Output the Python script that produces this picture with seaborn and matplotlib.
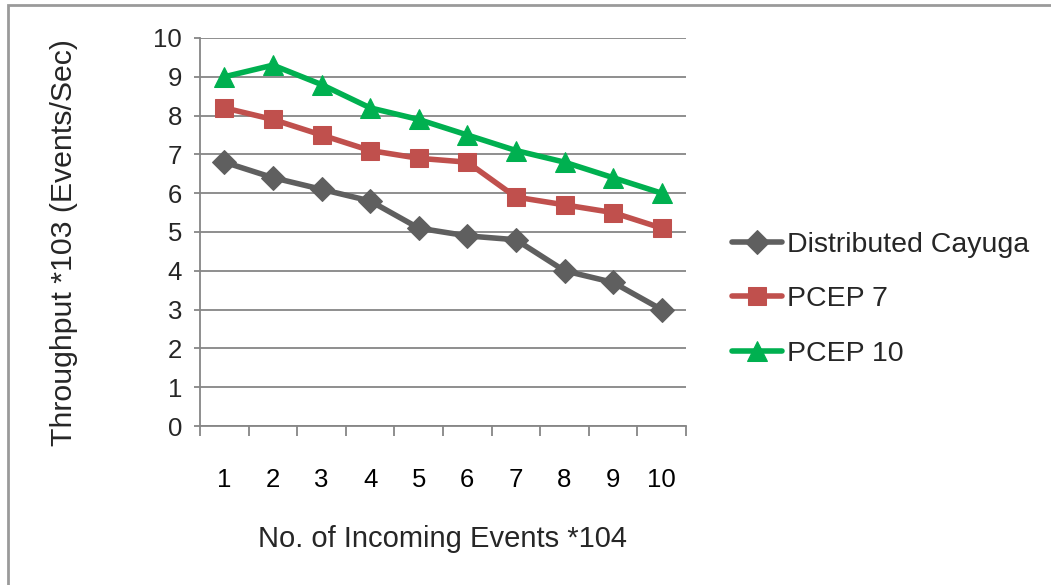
import matplotlib
matplotlib.use("Agg")
import matplotlib.pyplot as plt
import seaborn as sns
import pandas as pd
from matplotlib.patches import Rectangle

categories = ["1", "2", "3", "4", "5", "6", "7", "8", "9", "10"]
cayuga = [6.8, 6.4, 6.1, 5.8, 5.1, 4.9, 4.8, 4.0, 3.7, 3.0]
pcep7 = [8.2, 7.9, 7.5, 7.1, 6.9, 6.8, 5.9, 5.7, 5.5, 5.1]
pcep10 = [9.0, 9.3, 8.8, 8.2, 7.9, 7.5, 7.1, 6.8, 6.4, 6.0]
series_names = ["Distributed Cayuga", "PCEP 7", "PCEP 10"]
y_ticks = [0, 1, 2, 3, 4, 5, 6, 7, 8, 9, 10]

colors = ["#5f5f5f", "#c0504d", "#00b050"]
markers = ["D", "s", "^"]
msizes = [12.5, 13.5, 15]

sns.set_theme(style="white")
plt.rcParams['font.family'] = ['Liberation Sans', 'DejaVu Sans']

rows = []
for name, vals in zip(series_names, [cayuga, pcep7, pcep10]):
    for i, v in enumerate(vals):
        rows.append({"pos": i, "value": v, "series": name})
df = pd.DataFrame(rows)

fig = plt.figure(figsize=(10.51, 5.85), dpi=100)
ax = fig.add_axes([200/1051, 1-426/585, (686-200)/1051, (426-38)/585])

for name, c, m, ms in zip(series_names, colors, markers, msizes):
    sub = df[df["series"] == name]
    sns.lineplot(data=sub, x="pos", y="value", ax=ax, color=c, linewidth=4.0,
                 marker=m, markersize=ms, markeredgecolor=c, label=name, zorder=3)

ax.set_xlim(-0.5, 9.5)
ax.set_ylim(0, 10)
ax.set_yticks(y_ticks)
ax.set_yticklabels([str(t) for t in y_ticks], fontsize=18.5)
ax.set_xticks(range(len(categories)))
ax.set_xticklabels(categories, fontsize=18.5)
ax.set_xticks([i - 0.5 for i in range(len(categories) + 1)], minor=True)
ax.tick_params(axis='x', which='major', length=0, pad=30, colors='black')
ax.tick_params(axis='x', which='minor', length=7, width=1.3, color='#868686', direction='out', bottom=True)
ax.tick_params(axis='y', which='major', length=4, width=1.3, color='#868686', pad=9, left=True)
ax.grid(axis='y', color='#868686', linewidth=1.3)
ax.grid(axis='x', visible=False)
ax.set_axisbelow(True)
for s in ['top', 'right']:
    ax.spines[s].set_visible(False)
for s in ['left', 'bottom']:
    ax.spines[s].set_color('#868686')
    ax.spines[s].set_linewidth(1.3)

ax.set_xlabel("No. of Incoming Events *104", fontsize=21, labelpad=24)
ax.set_ylabel("Throughput *103 (Events/Sec)", fontsize=21.8)
ax.yaxis.set_label_coords(-0.251, 0.474)

leg = ax.legend(loc='center left', bbox_to_anchor=(1.042, 0.327), frameon=False,
                fontsize=20.5, handlelength=1.75, handletextpad=0.18, labelspacing=1.0)

fig.patches.append(Rectangle((8/1051, -0.1), 1.2, 1 - 5/585 + 0.1, transform=fig.transFigure,
                             fill=False, edgecolor='#9a9a9a', linewidth=2.0))

fig.savefig("out.png", dpi=100, facecolor='white')
